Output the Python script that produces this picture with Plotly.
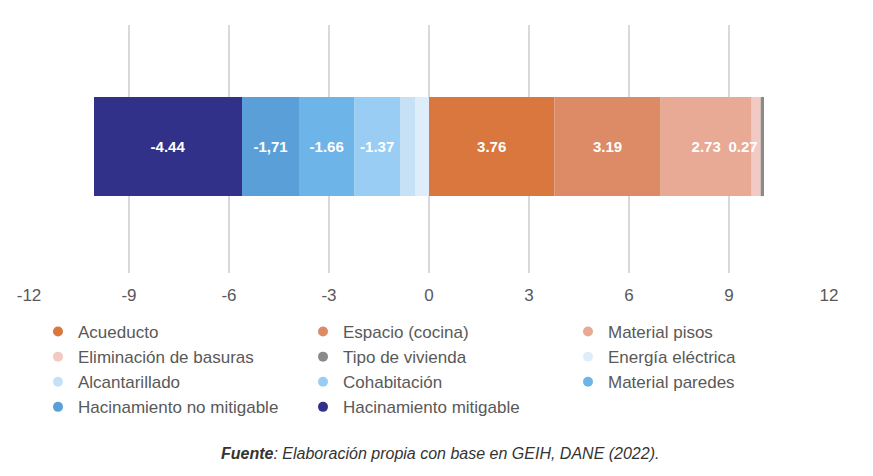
import plotly.graph_objects as go

# descomposicion del cambio por privacion (puntos)
categorias = ["Acueducto", "Espacio (cocina)", "Material pisos",
              "Eliminación de basuras", "Tipo de vivienda", "Energía eléctrica",
              "Alcantarillado", "Cohabitación", "Material paredes",
              "Hacinamiento no mitigable", "Hacinamiento mitigable"]
valores = [3.76, 3.19, 2.73, 0.27, 0.10, -0.42, -0.45, -1.37, -1.66, -1.71, -4.44]
etiquetas = ["3.76", "3.19", "2.73", "0.27", "", "", "", "-1.37", "-1.66", "-1,71", "-4.44"]
colores = ["#d9773e", "#dd8b67", "#e8a995", "#f2c9c3", "#8a8a8a", "#ddeefa",
           "#c6e1f6", "#99cdf3", "#6db5e9", "#5a9fd8", "#313189"]
ticks = [-12, -9, -6, -3, 0, 3, 6, 9, 12]
ticks_txt = ["-12", "-9", "-6", "-3", "0", "3", "6", "9", "12"]

fig = go.Figure()

for nombre, v, t, c in zip(categorias, valores, etiquetas, colores):
    # la etiqueta del segmento angosto se pega al final para que se lea
    ancla = "end" if abs(v) < 0.5 else "middle"
    fig.add_trace(go.Bar(
        x=[v], y=[""], orientation="h", name=nombre, width=0.4,
        marker=dict(color=c, line=dict(width=0)),
        text=[t], textposition="inside", insidetextanchor=ancla,
        constraintext="none", textangle=0, cliponaxis=False,
        textfont=dict(color="white", size=15, family="Liberation Sans"),
        texttemplate="<b>%{text}</b>",
        showlegend=False, hoverinfo="x+name"))

# entradas de leyenda con circulos
for nombre, c in zip(categorias, colores):
    fig.add_trace(go.Scatter(
        x=[None], y=[None], mode="markers", name=nombre,
        marker=dict(color=c, size=10, symbol="circle")))

# la pagina tiene 8px de margen en el body
W, H = 857, 460
plot_top, plot_bottom = 17, 265
alto = plot_bottom - plot_top

fig.update_layout(
    width=W, height=H,
    barmode="relative",
    plot_bgcolor="white", paper_bgcolor="white",
    margin=dict(l=21, r=36, t=plot_top, b=H - plot_bottom),
    font=dict(family="Liberation Sans", color="#595959"),
    xaxis=dict(range=[-12, 12], tickvals=ticks, ticktext=ticks_txt,
               showgrid=True, gridcolor="#d9d9d9", gridwidth=2,
               zeroline=False, automargin=False, ticklabelstandoff=10,
               tickfont=dict(size=17, color="#595959"), ticks="",
               fixedrange=True),
    yaxis=dict(showticklabels=False, showgrid=False, zeroline=False,
               automargin=False, range=[-0.51, 0.49]),
    legend=dict(orientation="h", xref="container", yref="container",
                x=30 / W, y=1 - 306 / H, xanchor="left", yanchor="top",
                entrywidth=220, entrywidthmode="pixels", itemwidth=30,
                font=dict(size=17, color="#595959"), traceorder="normal"),
    annotations=[dict(
        text="<b><i>Fuente</i></b><i>: Elaboración propia con base en GEIH, DANE (2022).</i>",
        xref="paper", yref="paper", x=0.514, y=(plot_bottom - 445) / alto,
        xanchor="center", yanchor="middle", showarrow=False,
        font=dict(size=16, color="#333333"))],
)

fig.write_html("out.html")
